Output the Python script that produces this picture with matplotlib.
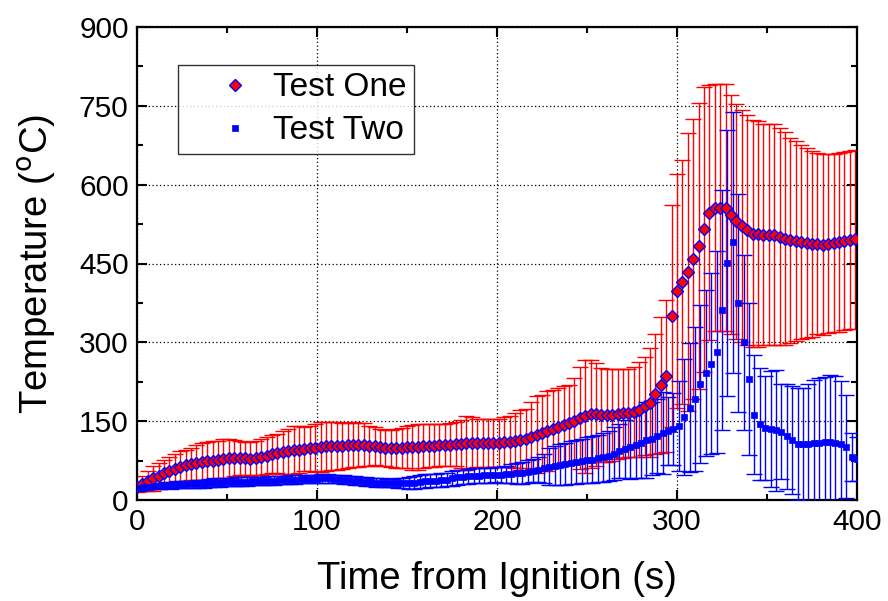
import numpy as np
import matplotlib
matplotlib.use("Agg")
from matplotlib import pyplot as plt
from matplotlib.ticker import MultipleLocator

# sample times (s) of the two tests
time_one = np.arange(0, 400, 3)
time_two = np.arange(1, 401, 3)

# Test One: mean temperature and error (deg C)
temp_one = [25, 31, 36, 41, 46, 51, 55, 59, 63, 66, 69, 71, 73, 74, 75, 76, 78, 79, 80, 80,
            79, 78, 80, 82, 84, 87, 89, 91, 93, 95, 96, 97, 98,
            99, 101, 102, 103, 103, 103, 104, 105, 105, 105, 103, 102, 100, 99, 98, 98, 99, 100, 100, 101,
            103, 103, 103, 104, 105, 105, 106, 107, 108, 109, 109, 108, 109,
            108, 109, 110, 111, 113, 115, 117, 120, 124, 128, 131, 135, 139, 142, 146, 151, 156, 159, 163, 163,
            162, 161, 162, 164, 165, 166, 168, 172, 179, 185, 201, 219, 236,
            350, 398, 415, 434, 458, 484, 515, 547, 556, 556, 556, 543, 530, 521, 514, 507, 507, 505, 505, 505,
            501, 497, 494, 493, 491, 489, 488, 488, 486, 488, 489, 490, 493, 495, 496]
err_one = [10, 14, 19, 23, 25, 26, 26, 28, 30, 30, 30, 33, 35, 36, 37, 37, 38, 37, 35, 33,
           32, 32, 33, 34, 35, 36, 37, 41, 43, 45, 44, 42, 42,
           45, 47, 47, 46, 45, 44, 43, 43, 42, 41, 38, 36, 35, 35, 36, 37, 38, 40, 43, 44,
           42, 41, 41, 40, 40, 41, 42, 46, 51, 48, 46, 46, 46,
           46, 46, 47, 48, 52, 57, 56, 66, 73, 72, 76, 75, 74, 75, 73, 82, 97, 107, 103, 98,
           90, 89, 88, 86, 85, 84, 86, 91, 94, 104, 114, 129, 144,
           211, 222, 232, 264, 266, 272, 271, 243, 235, 235, 235, 228, 223, 221, 219, 216, 215, 211, 211, 211,
           206, 203, 195, 190, 184, 180, 177, 172, 172, 170, 169, 171, 170, 170, 170]

# Test Two: mean temperature and error (deg C)
temp_two = [22, 24, 25, 26, 27, 28, 28, 29, 29, 30, 30, 31, 31, 32, 33, 33, 34, 34, 35, 35,
            35, 36, 36, 36, 37, 37, 38, 38, 39, 39, 40, 40, 40,
            40, 41, 41, 40, 40, 39, 38, 37, 36, 35, 34, 33, 33, 32, 32, 32, 32, 32, 33, 35,
            36, 37, 37, 38, 39, 41, 43, 44, 45, 46, 46, 47, 47,
            48, 48, 49, 50, 51, 52, 54, 56, 58, 60, 63, 65, 67, 69, 71, 73, 74, 76, 77, 79,
            81, 84, 88, 93, 97, 100, 104, 109, 114, 117, 122, 127, 131,
            135, 141, 158, 176, 193, 221, 241, 259, 282, 361, 451, 490, 375, 300, 230, 162, 145, 137, 135, 133,
            130, 121, 114, 107, 106, 106, 108, 109, 111, 111, 109, 106, 101, 82, 78]
err_two = [4, 5, 5, 6, 6, 6, 7, 7, 7, 7, 7, 8, 8, 8, 8, 8, 8, 8, 8, 8,
           8, 8, 8, 8, 8, 8, 8, 8, 8, 8, 8, 8, 8,
           8, 8, 8, 8, 8, 8, 8, 8, 8, 8, 8, 8, 8, 8, 8, 9, 10, 11, 12, 13,
           13, 13, 13, 13, 13, 14, 14, 14, 14, 14, 14, 14, 14,
           14, 15, 16, 18, 20, 21, 22, 22, 23, 28, 35, 37, 39, 40, 41, 42, 42, 43, 44, 45,
           46, 48, 50, 52, 55, 60, 63, 67, 72, 70, 71, 78, 65,
           68, 85, 110, 122, 137, 150, 158, 172, 192, 228, 253, 249, 207, 166, 144, 113, 106, 99, 111, 115,
           90, 100, 102, 107, 107, 115, 121, 124, 123, 126, 126, 120, 98, 45, 42]

plt.rcParams['font.family'] = ['Liberation Sans', 'DejaVu Sans']

fig = plt.figure(figsize=(8.88, 6.01), dpi=100)
ax = fig.add_axes([137 / 888, 1 - 500 / 601, 720 / 888, 473 / 601])

ax.errorbar(time_one, temp_one, yerr=err_one, fmt='none', ecolor='#ff0000',
            elinewidth=1.0, capsize=5.5, capthick=1.0, zorder=2)
ax.errorbar(time_two, temp_two, yerr=err_two, fmt='none', ecolor='#0000ff',
            elinewidth=1.0, capsize=5.5, capthick=1.0, zorder=3)
ax.plot(time_one, temp_one, linestyle='none', marker='D', markersize=6.2,
        markerfacecolor='#ff0000', markeredgecolor='#0000ff', markeredgewidth=1.0,
        label='Test One', zorder=4)
ax.plot(time_two, temp_two, linestyle='none', marker='s', markersize=4.0,
        markerfacecolor='#0000ff', markeredgecolor='#0000ff', markeredgewidth=0.5,
        label='Test Two', zorder=5)

ax.set_xlim(0, 400)
ax.set_ylim(0, 900)
ax.xaxis.set_major_locator(MultipleLocator(100))
ax.xaxis.set_minor_locator(MultipleLocator(50))
ax.yaxis.set_major_locator(MultipleLocator(150))
ax.yaxis.set_minor_locator(MultipleLocator(75))
ax.grid(True, which='major', color='black', linestyle=(0, (1, 2)), linewidth=0.9)
ax.set_axisbelow(True)

ax.tick_params(which='both', direction='in', top=True, right=True, width=1.5, labelsize=21.5)
ax.tick_params(which='major', length=7, pad=6)
ax.tick_params(which='minor', length=4)
for sp in ax.spines.values():
    sp.set_linewidth(1.6)

ax.set_xlabel('Time from Ignition (s)', fontsize=27.5, labelpad=18)
ax.set_ylabel('Temperature ($^{\\mathrm{o}}$C)', fontsize=27.5, labelpad=15)

leg = ax.legend(loc='upper left', bbox_to_anchor=(0.057, 0.92), borderaxespad=0,
                fontsize=24, frameon=True, fancybox=False, handletextpad=-0.36,
                handlelength=3.0, labelspacing=0.36, borderpad=0.22, markerscale=1.0)
leg.get_frame().set_edgecolor('black')
leg.get_frame().set_linewidth(1.0)

fig.savefig('out.png', dpi=100)
